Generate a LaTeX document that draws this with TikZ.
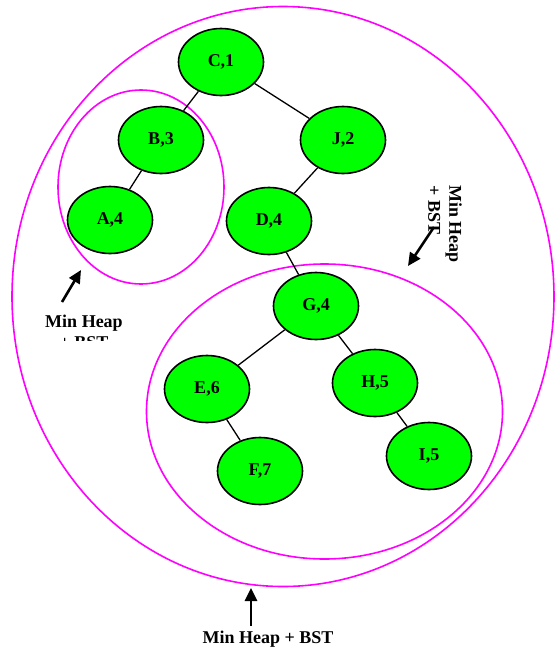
\documentclass[tikz,border=0pt]{standalone}
\usepackage{fontspec}
\setmainfont{Liberation Serif}
\usetikzlibrary{shapes.geometric,arrows.meta}
\definecolor{nodegreen}{RGB}{0,255,0}
\definecolor{ringmag}{RGB}{255,0,255}
\begin{document}
\begin{tikzpicture}[x=1pt,y=-1pt,
  tnode/.style={ellipse,draw=black,line width=1.6pt,fill=nodegreen,minimum width=85pt,minimum height=67pt,inner sep=0pt,font=\bfseries\fontsize{18}{21}\selectfont},
  ring/.style={draw=ringmag,line width=1.6pt},
  tedge/.style={draw=black,line width=1.3pt},
  lbl/.style={font=\bfseries\fontsize{18}{21}\selectfont,inner sep=0pt},
  pointer/.style={draw=black,line width=2.6pt,-{Triangle[length=13pt,width=12pt]}}]
\useasboundingbox (0,0) rectangle (557,649);
% rings
\draw[ring] (283,296.5) ellipse [x radius=271, y radius=290];
\draw[ring] (141,187) ellipse [x radius=83, y radius=97];
\draw[ring] (324.5,411.5) ellipse [x radius=178, y radius=147.5];
% nodes
\node[tnode] (C) at (221,62) {C,1};
\node[tnode] (B) at (161,140) {B,3};
\node[tnode] (A) at (110,220) {A,4};
\node[tnode] (J) at (343,140) {J,2};
\node[tnode] (D) at (269,221) {D,4};
\node[tnode] (G) at (316,306) {G,4};
\node[tnode] (E) at (207,389) {E,6};
\node[tnode] (H) at (375,383) {H,5};
\node[tnode] (F) at (260,471) {F,7};
\node[tnode] (I) at (429,456) {I,5};
% edges
\draw[tedge] (C) -- (B);
\draw[tedge] (B) -- (A);
\draw[tedge] (C) -- (J);
\draw[tedge] (J) -- (D);
\draw[tedge] (D) -- (G);
\draw[tedge] (G) -- (E);
\draw[tedge] (G) -- (H);
\draw[tedge] (E) -- (F);
\draw[tedge] (H) -- (I);
% labels and pointers
\begin{scope}
\clip (0,0) rectangle (557,340);
\node[lbl,align=center,anchor=north] (L1) at (84,315) {Min Heap\\+ BST};
\end{scope}
\coordinate (L1t) at (62,302);
\coordinate (L1h) at (81,270);
\draw[pointer] (L1t) -- (L1h);
\node[lbl,align=left,rotate=-90] (L2) at (445,224) {Min Heap\\+ BST};
\coordinate (L2t) at (434,227);
\coordinate (L2h) at (408,266);
\draw[pointer] (L2t) -- (L2h);
\node[lbl,anchor=base] (L3) at (268,643) {Min Heap + BST};
\coordinate (L3t) at (251,626);
\coordinate (L3h) at (251,588);
\draw[pointer] (L3t) -- (L3h);
\end{tikzpicture}
\end{document}
